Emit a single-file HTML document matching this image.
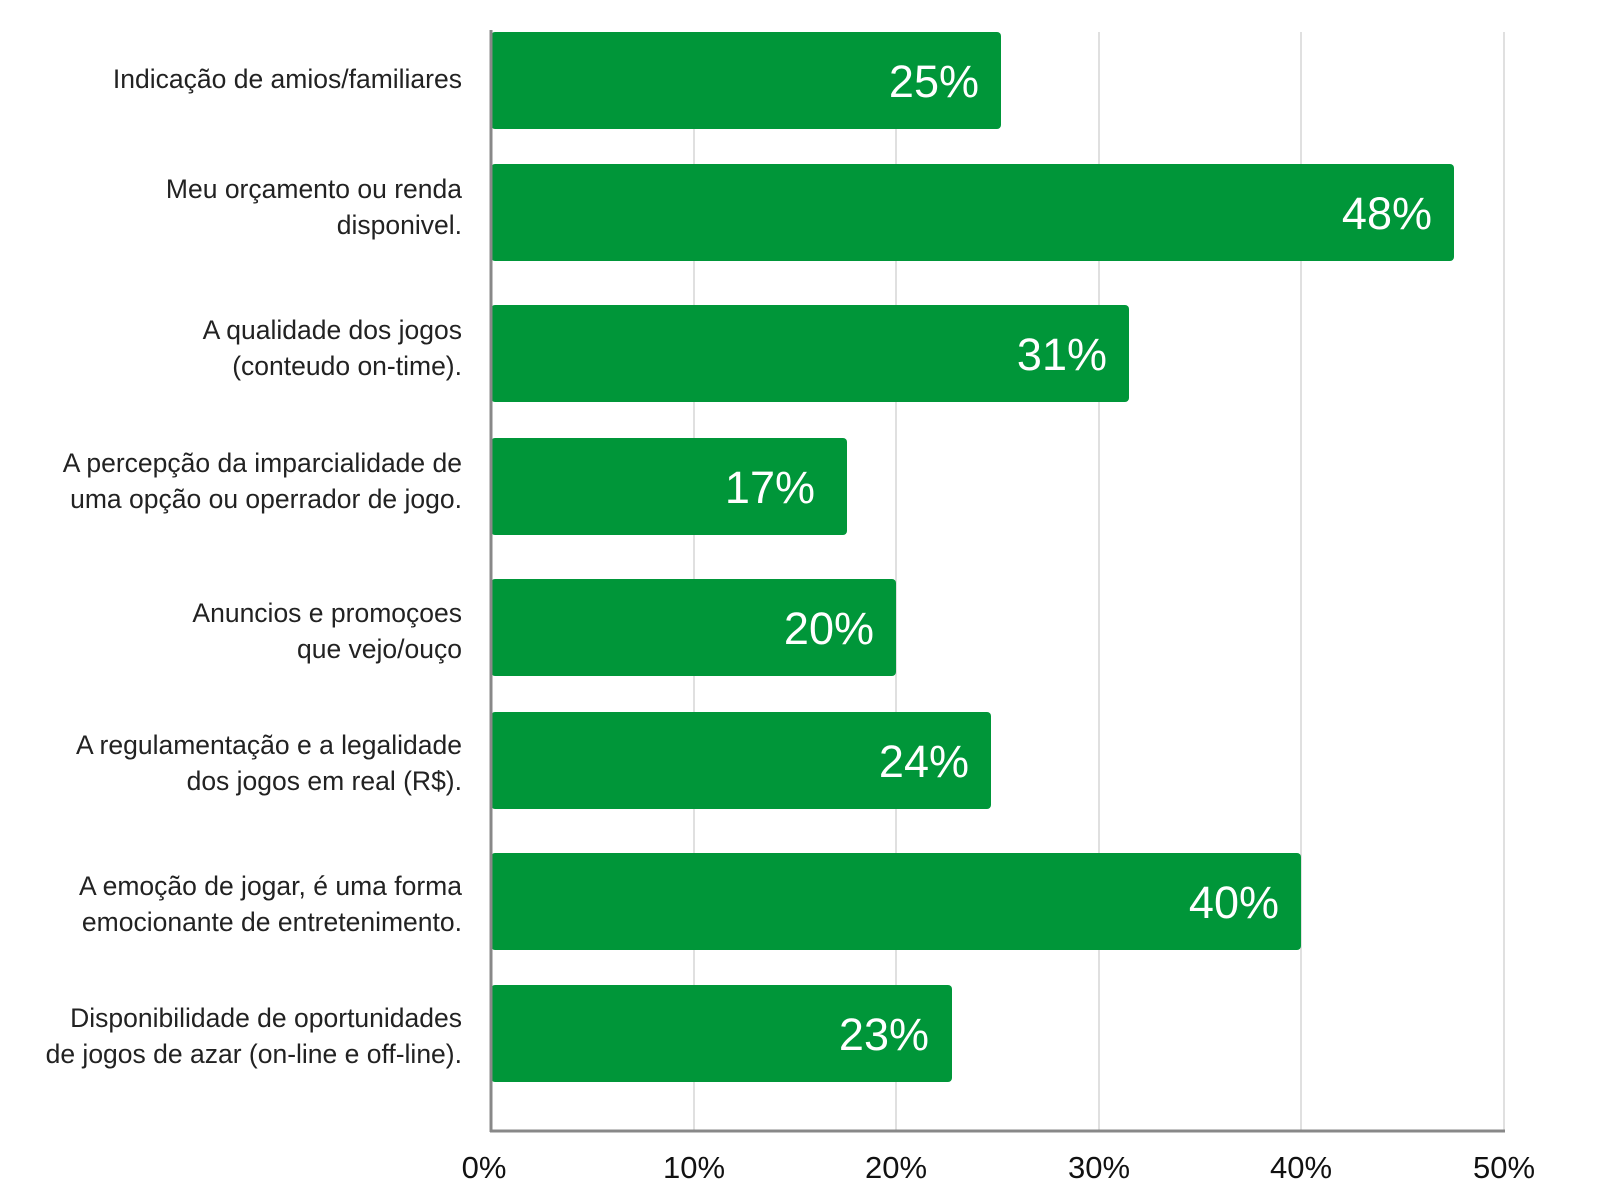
<!DOCTYPE html>
<html><head><meta charset="utf-8"><style>
html,body{margin:0;padding:0;background:#fff;}
svg{display:block;font-family:"Liberation Sans","DejaVu Sans",sans-serif;}
</style></head><body>
<svg width="1600" height="1197" viewBox="0 0 1600 1197" xmlns="http://www.w3.org/2000/svg">
<rect width="1600" height="1197" fill="#fff"/>
<g stroke="#d6d6d6" stroke-width="1.5">
<line x1="694" y1="32" x2="694" y2="1131"/>
<line x1="896" y1="32" x2="896" y2="1131"/>
<line x1="1099" y1="32" x2="1099" y2="1131"/>
<line x1="1301" y1="32" x2="1301" y2="1131"/>
<line x1="1504" y1="32" x2="1504" y2="1131"/>
</g>
<g fill="#009639">
<rect x="491" y="32" width="510" height="97" rx="4"/>
<rect x="491" y="164" width="963" height="97" rx="4"/>
<rect x="491" y="305" width="638" height="97" rx="4"/>
<rect x="491" y="438" width="356" height="97" rx="4"/>
<rect x="491" y="579" width="405" height="97" rx="4"/>
<rect x="491" y="712" width="500" height="97" rx="4"/>
<rect x="491" y="853" width="810" height="97" rx="4"/>
<rect x="491" y="985" width="461" height="97" rx="4"/>
</g>
<line x1="491" y1="30" x2="491" y2="1132" stroke="#888" stroke-width="3"/>
<line x1="490" y1="1131" x2="1505" y2="1131" stroke="#888" stroke-width="3"/>
<g fill="#fff" font-size="45" text-anchor="end">
<text x="979" y="97">25%</text>
<text x="1432" y="229">48%</text>
<text x="1107" y="370">31%</text>
<text x="815" y="503">17%</text>
<text x="874" y="644">20%</text>
<text x="969" y="777">24%</text>
<text x="1279" y="918">40%</text>
<text x="929" y="1050">23%</text>
</g>
<g fill="#222" font-size="26.5" text-anchor="end">
<text x="462" y="88">Indicação de amios/familiares</text>
<text x="462" y="198">Meu orçamento ou renda</text>
<text x="462" y="234">disponivel.</text>
<text x="462" y="339">A qualidade dos jogos</text>
<text x="462" y="375">(conteudo on-time).</text>
<text x="462" y="472">A percepção da imparcialidade de</text>
<text x="462" y="508">uma opção ou operrador de jogo.</text>
<text x="462" y="622">Anuncios e promoçoes</text>
<text x="462" y="658">que vejo/ouço</text>
<text x="462" y="754">A regulamentação e a legalidade</text>
<text x="462" y="790">dos jogos em real (R$).</text>
<text x="462" y="895">A emoção de jogar, é uma forma</text>
<text x="462" y="931">emocionante de entretenimento.</text>
<text x="462" y="1027">Disponibilidade de oportunidades</text>
<text x="462" y="1063">de jogos de azar (on-line e off-line).</text>
</g>
<g fill="#111" font-size="31" text-anchor="middle">
<text x="484" y="1178">0%</text>
<text x="694" y="1178">10%</text>
<text x="896" y="1178">20%</text>
<text x="1099" y="1178">30%</text>
<text x="1301" y="1178">40%</text>
<text x="1504" y="1178">50%</text>
</g>
</svg>
</body></html>
